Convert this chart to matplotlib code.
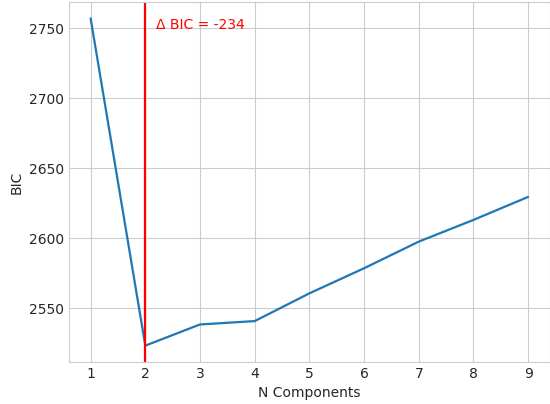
import numpy as np
import matplotlib
matplotlib.use('Agg')
import matplotlib.pyplot as plt
import seaborn as sns

sns.set_style('whitegrid')
plt.rcParams['font.family'] = ['DejaVu Sans']

n_components = [1, 2, 3, 4, 5, 6, 7, 8, 9]
bic = [2757, 2523.5, 2538.6, 2541, 2560.8, 2578.7, 2597.7, 2613.2, 2629.6]

best = n_components[int(np.argmin(bic))]
delta = min(bic) - bic[0]

fig = plt.figure(figsize=(5.5, 4.04), dpi=100)
ax = fig.add_axes([0.125, 0.104, 0.875, 0.891])
ax.plot(n_components, bic, color='#1f77b4', lw=1.6)
ax.axvline(best, color='red', lw=1.6)
ax.text(best + 0.2, 2752, '\u0394 BIC = %d' % round(delta), color='red',
        fontsize=10, va='center')
ax.set_xlabel('N Components', fontsize=10, labelpad=4)
ax.set_ylabel('BIC', fontsize=10, labelpad=4)
ax.tick_params(labelsize=10, length=0, pad=3.5)
ax.set_xticks(n_components)
fig.savefig('out.png', dpi=100)
